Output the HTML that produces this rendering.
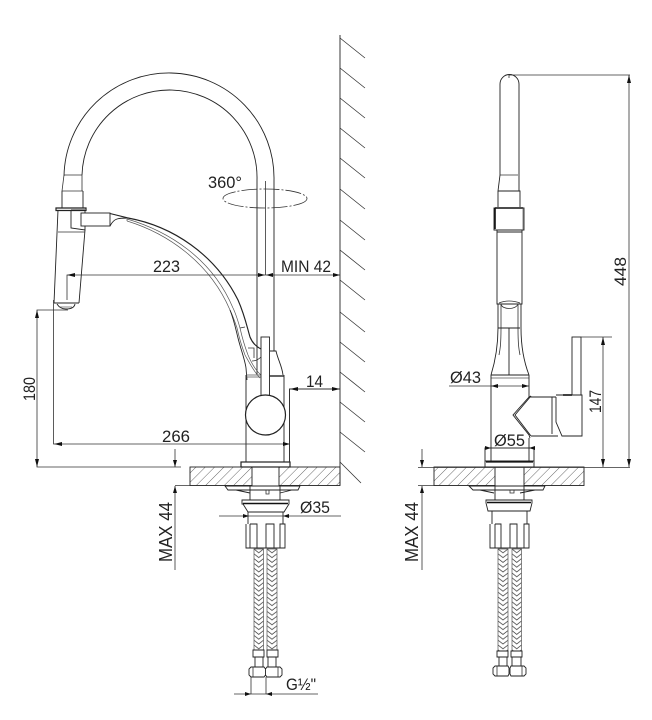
<!DOCTYPE html>
<html><head><meta charset="utf-8"><style>
html,body{margin:0;padding:0;background:#fff}
svg{display:block}
text{font-family:"Liberation Sans",sans-serif;font-size:17px;fill:#222}
.l{fill:none;stroke:#222;stroke-width:.9}
.t{fill:none;stroke:#555;stroke-width:.7}
.d{fill:none;stroke:#333;stroke-width:.8}
.k{fill:none;stroke:#111;stroke-width:1.600}
.a{fill:#111;stroke:none}
</style></head><body>
<svg width="652" height="720" viewBox="0 0 652 720" xmlns="http://www.w3.org/2000/svg">
<defs>
<pattern id="h" width="6.6" height="6.6" patternUnits="userSpaceOnUse" patternTransform="rotate(45)"><line x1="0" y1="0" x2="0" y2="6.6" stroke="#444" stroke-width=".8"/></pattern>
<pattern id="b1" x="254" y="549" width="9.500" height="4.800" patternUnits="userSpaceOnUse"><path d="M0 0L4.750 3.800L9.500 0M0 4.800L4.750 8.600L9.500 4.800M0 -4.800L4.750 -1L9.500 -4.800" fill="none" stroke="#444" stroke-width=".75"/></pattern>
<pattern id="b2" x="267" y="549" width="10" height="4.800" patternUnits="userSpaceOnUse"><path d="M0 0L5 3.800L10 0M0 4.800L5 8.600L10 4.800M0 -4.800L5 -1L10 -4.800" fill="none" stroke="#444" stroke-width=".75"/></pattern>
<pattern id="b3" x="498" y="549" width="10" height="4.800" patternUnits="userSpaceOnUse"><path d="M0 0L5 3.800L10 0M0 4.800L5 8.600L10 4.800M0 -4.800L5 -1L10 -4.800" fill="none" stroke="#444" stroke-width=".75"/></pattern>
<pattern id="b4" x="512" y="549" width="9.500" height="4.800" patternUnits="userSpaceOnUse"><path d="M0 0L4.750 3.800L9.500 0M0 4.800L4.750 8.600L9.500 4.800M0 -4.800L4.750 -1L9.500 -4.800" fill="none" stroke="#444" stroke-width=".75"/></pattern>
</defs>
<rect width="652" height="720" fill="#fff"/>

<!-- wall -->
<path class="l" d="M340 35V485"/>
<path class="d" d="M340 38l25 20M340 68l25 20M340 98l25 20M340 128l25 20M340 158l25 20M340 189l25 20M340 220l25 20M340 250l25 20M340 280l25 20M340 312l25 20M340 342l25 20M340 372l25 20M340 402l25 20M340 432l25 20M340 462l21 21"/>

<!-- counter -->
<rect x="190" y="467" width="62" height="18.500" style="fill:url(#h)" class="l"/>
<rect x="279" y="467" width="61" height="18.500" style="fill:url(#h)" class="l"/>
<rect x="434" y="467" width="61" height="18.500" style="fill:url(#h)" class="l"/>
<rect x="524" y="467" width="60" height="18.500" style="fill:url(#h)" class="l"/>

<!-- LEFT VIEW spout -->
<path class="l" d="M64 176A105 105 0 0 1 274 180V351"/>
<path class="l" d="M82 175A87.500 87.500 0 0 1 257 180V375"/>
<path class="d" d="M64 175H82M62 191L64 175M82 191V175M62 191H83"/>
<path class="l" d="M62 191V208M83 191V208"/>
<path class="l" d="M56 208H86V210.500H56Z" style="stroke-width:1.200"/>
<path class="l" d="M58 210L54 303M85 210V213M85 230L79 303M54 303H79"/>
<path class="d" d="M58 232H85"/>
<path class="l" d="M57 304Q60 309 66 309Q74 309 75 304"/>
<path class="t" d="M60 307H72"/>
<!-- bracket -->
<path class="l" d="M71 210V228L85 230V226M71 210H85"/>
<rect class="l" x="81" y="213" width="29" height="13" style="fill:#fff"/>
<!-- arm -->
<path class="l" d="M110 213.500L128 218C172 226 215 254 238 300C245 316 247 327 250 337C252 342 255 346 261 349" style="stroke-width:1.150"/>
<path class="l" d="M110 226C112 222 114 220 117 219C120 218 124 218 128 218"/>
<path class="t" d="M127 219C168 231 212 258 233 308C236 314 238 321 240 328C242 337 245 347 248 355C251 362 255 370 261 375"/>
<path class="t" d="M127 221C166 233 209 261 230 310C233 316 235 322 237 328C239 337 242 347 245 355C249 362 254 372 260 378"/>
<path class="t" d="M127 219V221"/>
<path class="l" d="M230 310C234 320 236 330 238 338C241 350 245 360 246 368L247 380"/>
<path class="d" d="M240 328L245 327M248 348H254V358M252 361Q257 361 261 357"/>
<!-- body -->
<path class="l" d="M246 375V462M284 375V462"/>
<path class="l" d="M270 351H276C278 360 282 366 283 375"/>
<path class="t" d="M246 375H261M246 377H261"/>
<path class="l" d="M269 376H284" style="stroke-width:1.400"/>
<rect class="l" x="261" y="337" width="8.500" height="60" style="fill:#fff"/>
<path class="t" d="M247 420A20 20 0 0 0 283 420"/>
<circle class="l" cx="265.500" cy="415" r="20" style="fill:#fff;stroke-width:1.200"/>
<rect class="l" x="241" y="462" width="49" height="5" style="stroke-width:1.200"/>
<!-- below counter left -->
<path class="l" d="M250 486V500M280 486V500"/>
<path class="l" d="M225 486H300L298 490H228ZM236 490L250 493M292 490L280 493"/>
<path class="d" d="M266 490V494H269V490"/>
<path class="l" d="M242 500H289V504L284 512H248L243 504H242Z"/>
<path class="k" d="M243 503.500H288"/>
<path class="l" d="M248 512V524M283 512V524"/>
<path class="l" d="M246 524V548H285V524H280V548M250 524V548M250 524H257V548M266 548V524H274V548"/>
<rect x="254" y="549" width="9.500" height="101" style="fill:url(#b1)" class="t"/>
<rect x="267" y="549" width="10" height="101" style="fill:url(#b2)" class="t"/>
<path class="l" d="M253 650H264V657H253ZM267 650H278V657H267ZM255 657V667M263 657V667M268 657V667M276 657V667"/>
<path class="l" d="M251 667H264L265.500 669V675L264 677H251L249 675V669ZM267 667H280L282 669V675L280 677H267L265.500 675V669Z"/>
<path class="d" d="M253 667V677M278 667V677"/>

<!-- LEFT dims -->
<ellipse cx="265" cy="198.500" rx="42" ry="9.500" fill="none" stroke="#333" stroke-width=".8" stroke-dasharray="16 2 2 2"/>
<path class="d" d="M265.500 181V275M67 300V275H340"/>
<polygon class="a" points="67,275 75,273 75,277"/>
<polygon class="a" points="265,275 258,273 258,277"/>
<polygon class="a" points="266,275 273,273 273,277"/>
<polygon class="a" points="340,275 333,273 333,277"/>
<text x="153" y="272" textLength="27" lengthAdjust="spacingAndGlyphs">223</text>
<text x="281" y="272" textLength="50" lengthAdjust="spacingAndGlyphs">MIN 42</text>
<text x="208" y="188" textLength="34" lengthAdjust="spacingAndGlyphs">360°</text>
<!-- 180 -->
<path class="d" d="M68 310H37V467H181"/>
<polygon class="a" points="37,310 35,318 39,318"/>
<polygon class="a" points="37,467 35,459 39,459"/>
<text transform="translate(35 401) rotate(-90)" textLength="24" lengthAdjust="spacingAndGlyphs">180</text>
<!-- 266 -->
<path class="d" d="M53.500 300V444H290"/>
<polygon class="a" points="54,444 62,442 62,446"/>
<polygon class="a" points="290,444 283,442 283,446"/>
<text x="162" y="442" textLength="28" lengthAdjust="spacingAndGlyphs">266</text>
<!-- 14 -->
<path class="d" d="M289.500 462V389H340" style="stroke-width:1"/>
<polygon class="a" points="290,389 298,387 298,391"/>
<polygon class="a" points="340,389 332,387 332,391"/>
<text x="306" y="387" textLength="17" lengthAdjust="spacingAndGlyphs">14</text>
<!-- MAX44 left -->
<path class="d" d="M175 449V467M175 486V570M175 485.500H190"/>
<polygon class="a" points="175,467 173,460 177,460"/>
<polygon class="a" points="175,486 173,493 177,493"/>
<text transform="translate(172 562) rotate(-90)" textLength="60" lengthAdjust="spacingAndGlyphs" style="font-size:18px">MAX 44</text>
<!-- Ø35 -->
<path class="d" d="M219 516H341"/>
<polygon class="a" points="249,516 243,514 243,518"/>
<polygon class="a" points="283,516 289,514 289,518"/>
<text x="300" y="513" textLength="30" lengthAdjust="spacingAndGlyphs">Ø35</text>
<!-- G1/2 -->
<path class="d" d="M234 694H318M251 677V694M266 677V694"/>
<polygon class="a" points="251,694 245,692 245,696"/>
<polygon class="a" points="266,694 272,692 272,696"/>
<text x="286" y="690" textLength="30" lengthAdjust="spacingAndGlyphs">G½"</text>

<!-- RIGHT VIEW -->
<path class="l" d="M500 175V84A9.500 9.500 0 0 1 519 84V191"/>
<path class="d" d="M500 175H518M509 75V78"/>
<path class="l" d="M500 175L498 191H520V207M498 191V207"/>
<path class="l" d="M494 208H524V230H494Z"/>
<path class="k" d="M495 208V229M495 208H523"/>
<path class="t" d="M523 208V230"/>
<path class="l" d="M497 230V232H522V230M497 232V304H522V232"/>
<path class="l" d="M498 304V328C498 345 495 362 491 375M521 304V328C521 345 524 362 529 375"/>
<path class="d" d="M501 304V328C501 345 500 350 499 355M518 304V328C518 345 519 350 520 355"/>
<path class="d" d="M501 304C502 310 516 310 518 304M499 303Q509 299 520 303"/>
<path class="l" d="M498 328H520M509 328V375"/>
<path class="l" d="M491 375H529"/><path class="t" d="M491 378H529"/>
<path class="l" d="M491 375V448M529 375V397"/>
<!-- side handle -->
<path class="l" d="M529 397L513 415L529 435L530 438M529 397L531 396L515 415L531 436"/>
<path class="l" d="M530 397H556M531 436H558M552 397V434"/>
<path class="l" d="M556 397V422L562 436H582V395H556" style="fill:#fff"/>
<path class="k" d="M563 395H572"/>
<rect class="l" x="572" y="337" width="9" height="58"/>
<path class="l" d="M485 448H534V467H485ZM491 448V461M529 438V461M485 461H534"/>
<path class="k" d="M486 462H533" style="stroke-width:1.200"/>
<!-- under right -->
<path class="l" d="M469 486H545L543 490H473ZM480 490L494 493M535 490L520 493"/>
<path class="l" d="M495 485V500M524 485V500"/>
<path class="d" d="M510 490V493H514V490"/>
<path class="l" d="M486 500H532V503L530 511H488L486 503Z"/>
<path class="k" d="M487 502.500H531"/>
<path class="l" d="M492 511V524M527 511V524"/>
<path class="l" d="M490 524V548H529V524H524V548M495 524V548M495 524H501V548M510 548V524H517V548"/>
<rect x="498" y="549" width="10" height="102" style="fill:url(#b3)" class="t"/>
<rect x="512" y="549" width="9.500" height="102" style="fill:url(#b4)" class="t"/>
<path class="l" d="M497 651H508V657H497ZM511 651H522V657H511ZM499 657V666M507 657V666M512 657V666M521 657V666"/>
<path class="l" d="M495 666H508L509 668V674L508 676H495L493 674V668ZM511 666H524L526 668V674L524 676H511L510 674V668Z"/>
<path class="d" d="M497 666V676M522 666V676"/>

<!-- RIGHT dims -->
<path class="d" d="M509 75H630M629 75V467M418 467.500H630"/>
<polygon class="a" points="629,75 627,83 631,83"/>
<polygon class="a" points="629,467 627,459 631,459"/>
<text transform="translate(626 286) rotate(-90)" textLength="29" lengthAdjust="spacingAndGlyphs">448</text>
<path class="d" d="M581 337H612M603 337V467"/>
<polygon class="a" points="603,337 601,345 605,345"/>
<polygon class="a" points="603,467 601,459 605,459"/>
<text transform="translate(601 413) rotate(-90)" textLength="23" lengthAdjust="spacingAndGlyphs">147</text>
<path class="d" d="M449 386H529"/>
<polygon class="a" points="491,386 498,384 498,388"/>
<polygon class="a" points="529,386 522,384 522,388"/>
<text x="450" y="383" textLength="31" lengthAdjust="spacingAndGlyphs">Ø43</text>
<path class="d" d="M485 448H534"/>
<polygon class="a" points="491,448 485,446 485,450"/>
<polygon class="a" points="529,448 535,446 535,450"/>
<text x="494" y="446" textLength="31" lengthAdjust="spacingAndGlyphs">Ø55</text>
<path class="d" d="M422 449V467M422 486V570M418 485.500H434"/>
<polygon class="a" points="422,467 420,460 424,460"/>
<polygon class="a" points="422,486 420,493 424,493"/>
<text transform="translate(418 562) rotate(-90)" textLength="60" lengthAdjust="spacingAndGlyphs" style="font-size:18px">MAX 44</text>
</svg>
</body></html>
